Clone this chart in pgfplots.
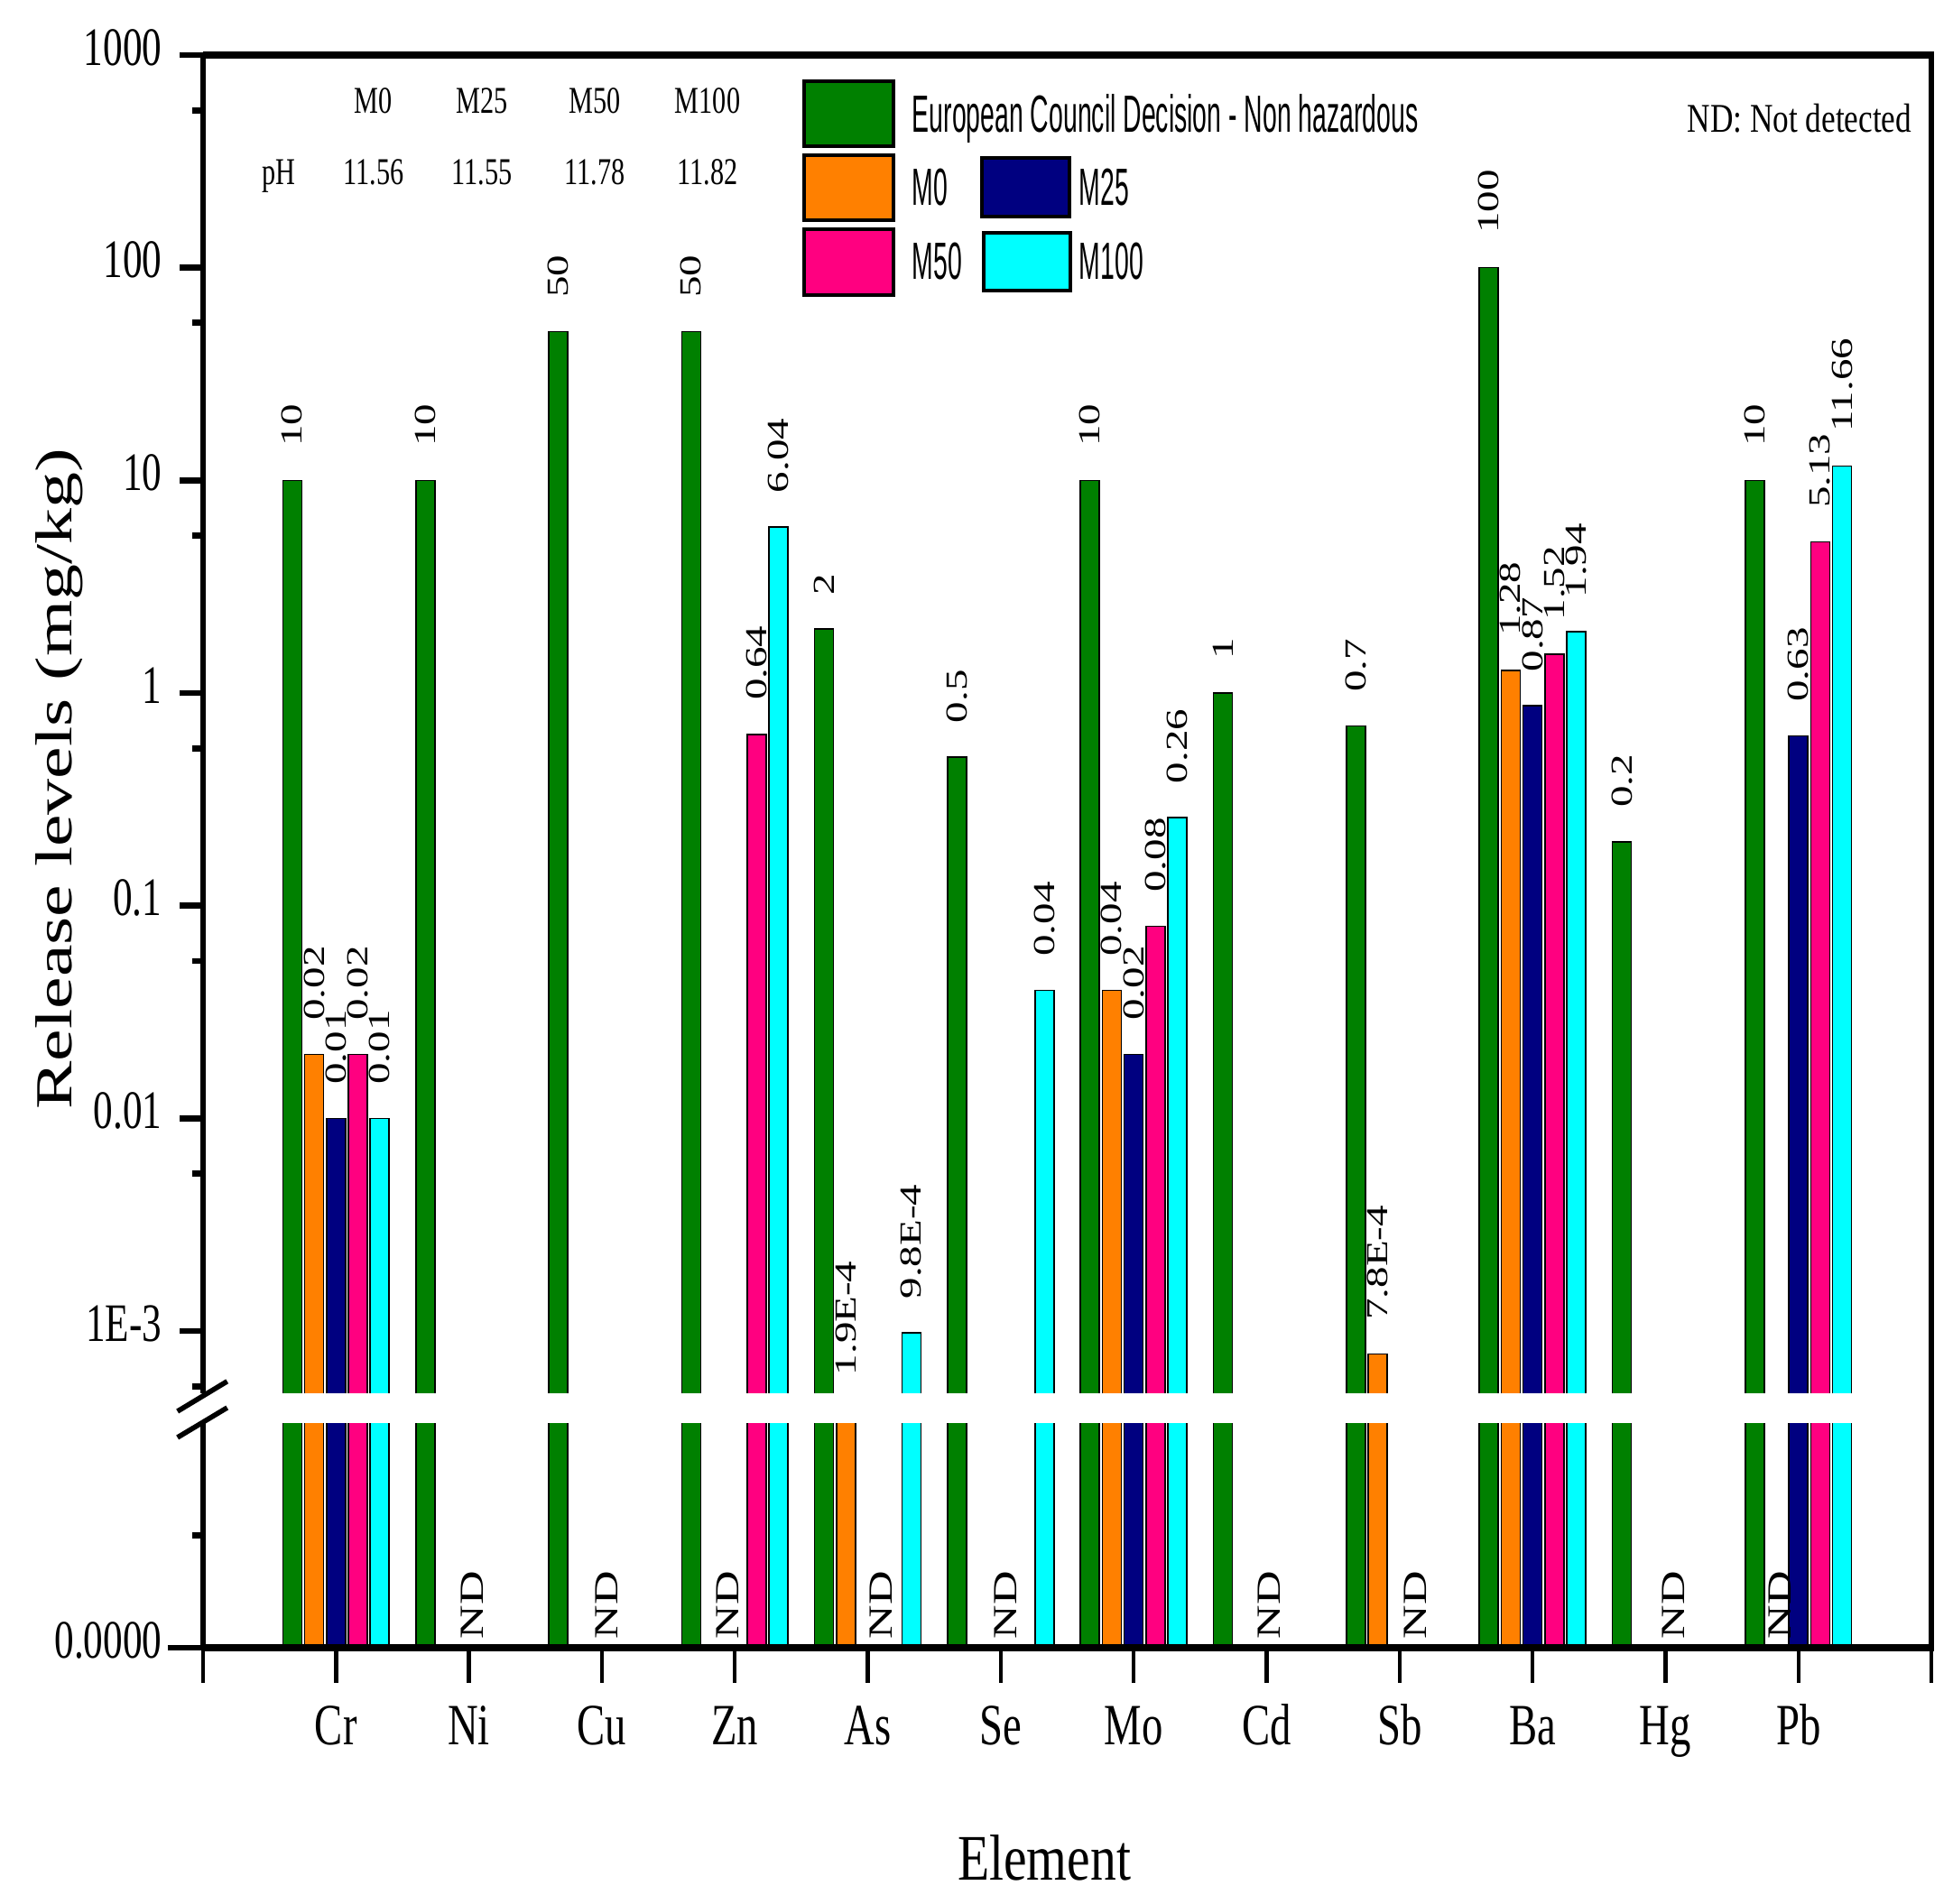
\documentclass[border=0pt]{standalone}
\usepackage{fontspec}
\setmainfont{Liberation Serif}
\newfontfamily\legfont{Liberation Sans}
\usepackage{graphicx}
\usepackage{pgfplots}
\usepackage{pgfplotstable}
\pgfplotsset{compat=1.18}

\definecolor{cgreen}{RGB}{0,128,0}
\definecolor{corange}{RGB}{255,128,0}
\definecolor{cnavy}{RGB}{0,0,128}
\definecolor{cpink}{RGB}{255,0,128}
\definecolor{ccyan}{RGB}{0,255,255}

\newcommand{\sx}[1]{\scalebox{0.72}[1]{#1}}
\newcommand{\sv}[1]{\scalebox{1}[0.72]{#1}}

% European Council Decision - Non hazardous
\pgfplotstableread{
x y label
1 10 10
2 10 10
3 50 50
4 50 50
5 2 2
6 0.5 0.5
7 10 10
8 1 1
9 0.7 0.7
10 100 100
11 0.2 0.2
12 10 10
}\ecd
% M0 (ND omitted)
\pgfplotstableread{
x y label
1 0.02 0.02
5 1.9e-4 1.9E-4
7 0.04 0.04
9 7.8e-4 7.8E-4
10 1.28 1.28
}\mzero
% M25
\pgfplotstableread{
x y label
1 0.01 0.01
7 0.02 0.02
10 0.87 0.87
12 0.63 0.63
}\mtwofive
% M50
\pgfplotstableread{
x y label
1 0.02 0.02
4 0.64 0.64
7 0.08 0.08
10 1.52 1.52
12 5.13 5.13
}\mfifty
% M100
\pgfplotstableread{
x y label
1 0.01 0.01
4 6.04 6.04
5 9.8e-4 9.8E-4
6 0.04 0.04
7 0.26 0.26
10 1.94 1.94
12 11.66 11.66
}\mhundred

\pgfplotsset{
  barbase/.style={
    ybar, bar width=0.1426,
    scale only axis, width=478.75pt,
    xmin=0, xmax=13,
    tick align=outside,
    major tick length=6.5pt, minor tick length=3pt,
    ytick style={line width=1.7pt, black},
    yticklabel style={font=\fontsize{15}{18}\selectfont, anchor=base east, xshift=-1.4pt, yshift=-2.75pt},
    every axis plot/.append style={draw=black, line width=0.4pt},
  },
  lines/.style={
    axis line style={-},
    every outer x axis line/.append style={-},
    every outer y axis line/.append style={-},
    every inner x axis line/.append style={-},
    every inner y axis line/.append style={-},
    x axis line style={line width=1.8pt, -},
    y axis line style={line width=1.3pt, -},
  },
}

\begin{document}
\begin{tikzpicture}
\useasboundingbox (-56.25pt,-71pt) rectangle (484.75pt,456.5pt);

% ---------- lower segment (linear, 0 ... break) ----------
\begin{axis}[barbase,
  at={(0pt,0pt)}, anchor=south west, height=62.25pt,
  ymin=0, ymax=1e-4, scaled y ticks=false,
  axis x line=bottom, axis y line=left, lines,
  xtick align=outside, ytick align=outside,
  major tick length=9.75pt,
  xtick={0,...,13},
  xticklabels={,\sx{Cr},\sx{Ni},\sx{Cu},\sx{Zn},\sx{As},\sx{Se},\sx{Mo},\sx{Cd},\sx{Sb},\sx{Ba},\sx{Hg},\sx{Pb},},
  xtick style={line width=1.1pt, black},
  xticklabel style={font=\fontsize{16.2}{19}\selectfont, anchor=base, yshift=-17.05pt},
  ytick={0}, yticklabels={\sx{0.0000}}, minor ytick={5e-5},
  yticklabel style={xshift=3.25pt},
  restrict y to domain*=0:1.2e-4,
  axis on top,
]
\addplot[fill=cgreen,  bar shift=-0.3286] table[x=x,y=y]{\ecd};
\addplot[fill=corange, bar shift=-0.1643] table[x=x,y=y]{\mzero};
\addplot[fill=cnavy,   bar shift=0]       table[x=x,y=y]{\mtwofive};
\addplot[fill=cpink,   bar shift=0.1643]  table[x=x,y=y]{\mfifty};
\addplot[fill=ccyan,   bar shift=0.3286]  table[x=x,y=y]{\mhundred};
\begin{scope}[every node/.style={rotate=90, anchor=west, inner xsep=2.25pt, inner ysep=0pt, font=\fontsize{13}{15}\selectfont}]
\node at (axis cs:2.023,0) {\sv{ND}};
\node at (axis cs:3.034,0) {\sv{ND}};
\node at (axis cs:3.945,0) {\sv{ND}};
\node at (axis cs:5.10,0) {\sv{ND}};
\node at (axis cs:6.035,0) {\sv{ND}};
\node at (axis cs:8.02,0) {\sv{ND}};
\node at (axis cs:9.12,0) {\sv{ND}};
\node at (axis cs:11.06,0) {\sv{ND}};
\node at (axis cs:11.864,0) {\sv{ND}};
\end{scope}
\end{axis}

% ---------- upper segment (log) ----------
\begin{axis}[barbase,
  at={(0pt,70pt)}, anchor=south west, height=371.25pt,
  ymode=log, ymin=5e-4, ymax=1000, log origin y=infty,
  axis x line=top, axis y line=left, lines,
  ytick align=outside,
  xtick=\empty,
  ytick={1e-3,1e-2,1e-1,1,10,100,1000},
  yticklabels={\sx{1E-3},\sx{0.01},\sx{0.1},\sx{1},\sx{10},\sx{100},\sx{1000}},
  minor ytick={5.5e-4,5.5e-3,5.5e-2,0.55,5.5,55,550},
  restrict y to domain*=-7.8:20,
  point meta=explicit symbolic,
  nodes near coords={\sv{\pgfplotspointmeta}},
  nodes near coords style={rotate=90, anchor=west, inner xsep=9.25pt, inner ysep=0pt,
    font=\fontsize{11.75}{14}\selectfont, text=black},
]
\addplot[fill=cgreen,  bar shift=-0.3286] table[x=x,y=y,meta=label]{\ecd};
\addplot[fill=corange, bar shift=-0.1643] table[x=x,y=y,meta=label]{\mzero};
\addplot[fill=cnavy,   bar shift=0]       table[x=x,y=y,meta=label]{\mtwofive};
\addplot[fill=cpink,   bar shift=0.1643]  table[x=x,y=y,meta=label]{\mfifty};
\addplot[fill=ccyan,   bar shift=0.3286]  table[x=x,y=y,meta=label]{\mhundred};
% label of the As/M0 bar, whose top lies inside the axis break
\node[rotate=90, anchor=west, inner xsep=5.25pt, inner ysep=0pt, font=\fontsize{11.75}{14}\selectfont]
  at (axis cs:4.8357,5e-4) {\sv{1.9E-4}};
\end{axis}

% ---------- axis break ----------
\fill[white] (-1pt,62.25pt) rectangle (480pt,70.5pt);
\draw[line width=1.3pt] (478.75pt,-0.9pt) -- (478.75pt,442.15pt);
\draw[line width=1.4pt] (-7.08pt,65.5pt) -- (6.68pt,73.8pt);
\draw[line width=1.4pt] (-7.08pt,58.25pt) -- (6.68pt,66.5pt);

% ---------- axis titles ----------
\node[rotate=90, anchor=base, inner sep=0pt, font=\fontsize{20}{24}\selectfont]
  at (-36.25pt,240.75pt) {\sv{Release levels (mg/kg)}};
\node[anchor=base, inner sep=0pt, font=\fontsize{18}{22}\selectfont]
  at (233pt,-64.25pt) {\scalebox{0.8}[1]{Element}};

% ---------- pH table ----------
\begin{scope}[every node/.style={anchor=base, inner sep=0pt, font=\fontsize{10.5}{12}\selectfont}]
\node at (47.25pt,425pt) {\sx{M0}};
\node at (77.25pt,425pt) {\sx{M25}};
\node at (108.5pt,425pt) {\sx{M50}};
\node at (139.75pt,425pt) {\sx{M100}};
\node at (21pt,405.25pt) {\sx{pH}};
\node at (47.25pt,405.25pt) {\sx{11.56}};
\node at (77.25pt,405.25pt) {\sx{11.55}};
\node at (108.5pt,405.25pt) {\sx{11.78}};
\node at (139.75pt,405.25pt) {\sx{11.82}};
\end{scope}

% ---------- legend ----------
\draw[fill=cgreen, line width=0.8pt]  (166.5pt,416pt) rectangle (191.25pt,434pt);
\draw[fill=corange, line width=0.8pt] (166.5pt,395.5pt) rectangle (191.25pt,413.5pt);
\draw[fill=cnavy, line width=0.8pt]   (215.75pt,396.5pt) rectangle (240pt,412.75pt);
\draw[fill=cpink, line width=0.8pt]   (166.5pt,374.75pt) rectangle (191.25pt,393pt);
\draw[fill=ccyan, line width=0.8pt]   (216.25pt,376pt) rectangle (240.25pt,392pt);
\begin{scope}[every node/.style={anchor=base west, inner sep=0pt, font=\legfont\fontsize{14.5}{16}\selectfont}]
\node at (196.25pt,419.75pt) {\scalebox{0.49}[1]{European Council Decision - Non hazardous}};
\node at (196.25pt,399.5pt) {\scalebox{0.49}[1]{M0}};
\node at (242.5pt,399.5pt) {\scalebox{0.49}[1]{M25}};
\node at (196.25pt,379pt) {\scalebox{0.49}[1]{M50}};
\node at (242.5pt,379pt) {\scalebox{0.49}[1]{M100}};
\end{scope}
\node[anchor=base east, inner sep=0pt, font=\fontsize{11.3}{13}\selectfont]
  at (473.5pt,419.75pt) {\scalebox{0.78}[1]{ND: Not detected}};
\end{tikzpicture}
\end{document}
